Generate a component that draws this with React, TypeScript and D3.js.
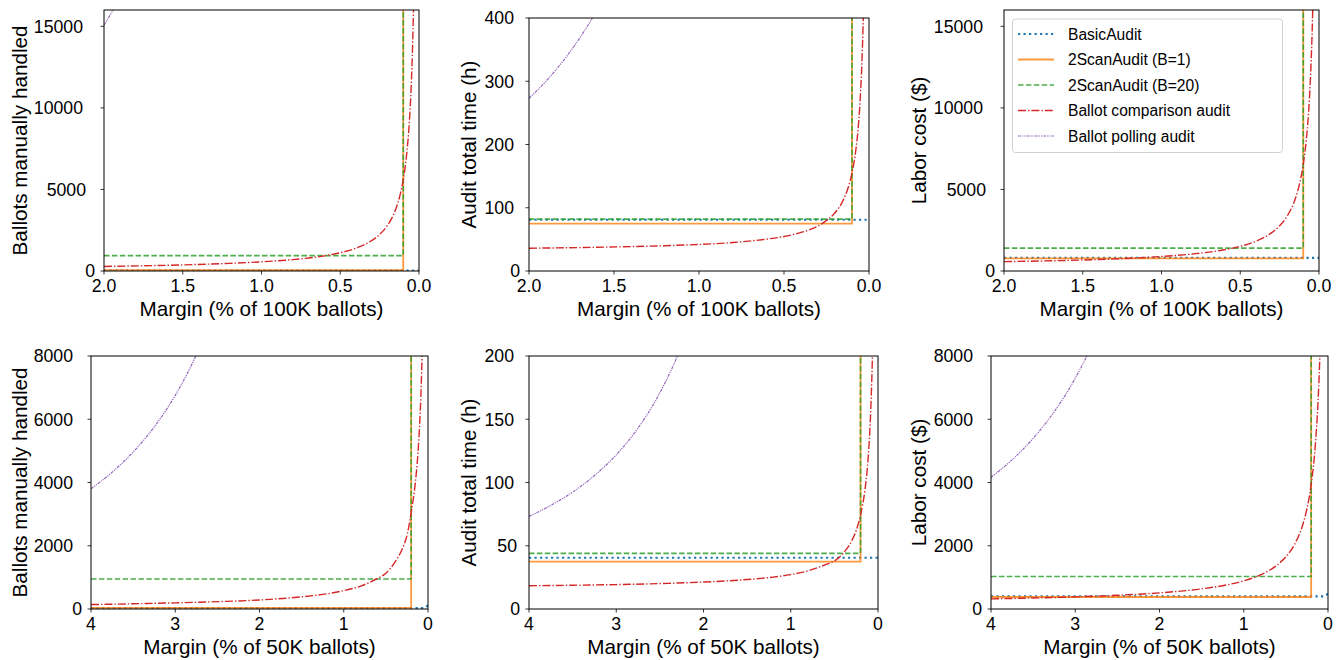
import React, { useEffect, useRef } from 'react';
import * as d3 from 'd3';

// ---- data ----
// margin samples (% of ballots) along the comparison / polling curves
const marginsTopCurve = [2.0, 1.6, 1.2, 1.0, 0.8, 0.6, 0.5, 0.4, 0.3, 0.25, 0.2, 0.15, 0.12, 0.1, 0.08, 0.06, 0.05, 0.04, 0.035, 0.03];
const comparisonBallots100k = [280, 350, 470, 560, 700, 930, 1120, 1400, 1870, 2240, 2800, 3730, 4670, 5600, 7000, 9330, 11200, 14000, 16000, 18700];
const comparisonTime100k = [36, 37.5, 40, 42, 45, 50.5, 54.5, 61, 71, 80, 92, 113, 134, 155, 186, 238, 280, 342, 387, 446];
const comparisonCost100k = [575, 650, 780, 890, 1045, 1305, 1515, 1830, 2350, 2770, 3400, 4440, 5485, 6530, 8100, 10710, 12800, 15935, 18170, 21160];

const marginsTopPolling = [2.0, 1.9, 1.8, 1.7, 1.6, 1.5];
const pollingBallots100k = [15080, 16710, 18620, 20870, 23560, 26810];
const pollingTime100k = [273, 300, 332, 369, 413, 467];
const pollingCost100k = [16600, 18400, 20500, 23000, 25900, 29500];

const marginsBottomCurve = [4, 3.5, 3, 2.5, 2, 1.5, 1.2, 1, 0.8, 0.6, 0.5, 0.4, 0.3, 0.25, 0.2, 0.15, 0.12, 0.1, 0.08, 0.06, 0.05];
const comparisonBallots50k = [140, 165, 195, 232, 285, 385, 480, 580, 725, 965, 1130, 1450, 1935, 2320, 3050, 4000, 4900, 5800, 7100, 9300, 11000];
const comparisonTime50k = [18.4, 18.8, 19.3, 20.1, 21.3, 23.3, 25.2, 27.2, 30.2, 35.1, 38, 44, 54, 62, 74.5, 94, 113, 133, 163, 212, 251];
const comparisonCost50k = [320, 347, 383, 434, 510, 637, 763, 890, 1080, 1397, 1650, 2030, 2663, 3170, 3930, 5197, 6463, 7730, 9630, 12797, 15330];

const marginsBottomPolling = [4, 3.75, 3.5, 3.25, 3, 2.75, 2.5, 2.25, 2.0];
const pollingBallots50k = [3800, 4324, 4963, 5756, 6756, 8040, 9728, 12010, 15200];
const pollingTime50k = [73.2, 81.9, 92.4, 105.5, 121.9, 143.1, 170.9, 208.5, 261.1];
const pollingCost50k = [4161, 4717, 5396, 6237, 7297, 8659, 10450, 12870, 16255];

// flat audits: [ballots, hours, dollars]
const basicAudit100k = [25, 81, 800];
const basicAudit50k = [30, 40.5, 400];
const basicAudit50kAtZero = [110, 40.5, 480];
const twoScanB1_100k = [45, 75, 780];
const twoScanB1_50k = [35, 37.5, 380];
const twoScanB20_100k = [940, 82, 1400];
const twoScanB20_50k = [950, 44, 1030];
const twoScanLimit100k = 0.1;
const twoScanLimit50k = 0.2;

const yTicksBallots100k = [0, 5000, 10000, 15000];
const yTicksTime100k = [0, 100, 200, 300, 400];
const yTicksBallots50k = [0, 2000, 4000, 6000, 8000];
const yTicksTime50k = [0, 50, 100, 150, 200];
const xTicks100k = [2.0, 1.5, 1.0, 0.5, 0.0];
const xTicks50k = [4, 3, 2, 1, 0];

const legendLabels = ['BasicAudit', '2ScanAudit (B=1)', '2ScanAudit (B=20)', 'Ballot comparison audit', 'Ballot polling audit'];

// ---- styling ----
const styles = [
  { color: '#1f77b4', width: 2.2, dash: '2.2,3.3', opacity: 1 },
  { color: '#ff7f0e', width: 1.8, dash: null, opacity: 0.8 },
  { color: '#2ca02c', width: 1.6, dash: '5.5,2.4', opacity: 0.85 },
  { color: '#d62728', width: 1.4, dash: '8,2,1.4,2', opacity: 1 },
  { color: '#9467bd', width: 1.2, dash: '3,1,1.2,1,1.2,1', opacity: 1 },
];

const FONT = '"Liberation Sans", Arial, Helvetica, sans-serif';

type Pt = [number, number];
const zip = (xs: number[], ys: number[]): Pt[] => xs.map((m, i) => [m, ys[i]]);

function buildSeries(k: number, big: boolean) {
  const xmax = big ? 2 : 4;
  const limit = big ? twoScanLimit100k : twoScanLimit50k;
  const basic = big ? basicAudit100k : basicAudit50k;
  const b1 = big ? twoScanB1_100k : twoScanB1_50k;
  const b20 = big ? twoScanB20_100k : twoScanB20_50k;
  const huge = 1e6;
  const basicPts: Pt[] = big
    ? [[xmax, basic[k]], [0, basic[k]]]
    : [[xmax, basic[k]], [0.05, basic[k]], [0, basicAudit50kAtZero[k]]];
  const comp = big
    ? [comparisonBallots100k, comparisonTime100k, comparisonCost100k][k]
    : [comparisonBallots50k, comparisonTime50k, comparisonCost50k][k];
  const poll = big
    ? [pollingBallots100k, pollingTime100k, pollingCost100k][k]
    : [pollingBallots50k, pollingTime50k, pollingCost50k][k];
  return [
    { pts: basicPts, smooth: false },
    { pts: [[xmax, b1[k]], [limit, b1[k]], [limit, huge]] as Pt[], smooth: false },
    { pts: [[xmax, b20[k]], [limit, b20[k]], [limit, huge]] as Pt[], smooth: false },
    { pts: zip(big ? marginsTopCurve : marginsBottomCurve, comp), smooth: true },
    { pts: zip(big ? marginsTopPolling : marginsBottomPolling, poll), smooth: true },
  ];
}

const panels = [
  { x0: 104, x1: 419, y0: 10, y1: 271, k: 0, big: true, ymax: 16000, yTicks: yTicksBallots100k, ylabel: 'Ballots manually handled', ylabelX: 27 },
  { x0: 529, x1: 869, y0: 18, y1: 271, k: 1, big: true, ymax: 400, yTicks: yTicksTime100k, ylabel: 'Audit total time (h)', ylabelX: 476 },
  { x0: 1004, x1: 1319, y0: 10, y1: 271, k: 2, big: true, ymax: 16000, yTicks: yTicksBallots100k, ylabel: 'Labor cost ($)', ylabelX: 926 },
  { x0: 91, x1: 428, y0: 356, y1: 609, k: 0, big: false, ymax: 8000, yTicks: yTicksBallots50k, ylabel: 'Ballots manually handled', ylabelX: 27 },
  { x0: 529, x1: 878, y0: 356, y1: 609, k: 1, big: false, ymax: 200, yTicks: yTicksTime50k, ylabel: 'Audit total time (h)', ylabelX: 476 },
  { x0: 991, x1: 1328, y0: 356, y1: 609, k: 2, big: false, ymax: 8000, yTicks: yTicksBallots50k, ylabel: 'Labor cost ($)', ylabelX: 926 },
];

function applyStyle(sel: any, s: any) {
  sel
    .attr('fill', 'none')
    .attr('stroke', s.color)
    .attr('stroke-width', s.width)
    .attr('stroke-opacity', s.opacity)
    .attr('stroke-dasharray', s.dash);
}

export default function App() {
  const ref = useRef<SVGSVGElement>(null);

  useEffect(() => {
    document.body.style.margin = '0';
    const svg = d3.select(ref.current);
    svg.selectAll('*').remove();

    panels.forEach((p, i) => {
      const xmax = p.big ? 2 : 4;
      const x = d3.scaleLinear().domain([xmax, 0]).range([p.x0, p.x1]);
      const y = d3.scaleLinear().domain([0, p.ymax]).range([p.y1, p.y0]);
      const g = svg.append('g');
      const clipId = `clip-${i}`;
      g.append('clipPath')
        .attr('id', clipId)
        .append('rect')
        .attr('x', p.x0)
        .attr('y', p.y0)
        .attr('width', p.x1 - p.x0)
        .attr('height', p.y1 - p.y0);

      const plot = g.append('g').attr('clip-path', `url(#${clipId})`);
      const straight = d3.line<Pt>().x((d) => x(d[0])).y((d) => y(Math.min(d[1], p.ymax * 3)));
      const smooth = d3
        .line<Pt>()
        .x((d) => x(d[0]))
        .y((d) => y(d[1]))
        .curve(d3.curveMonotoneX);

      buildSeries(p.k, p.big).forEach((s, j) => {
        const path = plot.append('path').attr('d', (s.smooth ? smooth : straight)(s.pts));
        applyStyle(path, styles[j]);
      });

      // frame
      g.append('rect')
        .attr('x', p.x0)
        .attr('y', p.y0)
        .attr('width', p.x1 - p.x0)
        .attr('height', p.y1 - p.y0)
        .attr('fill', 'none')
        .attr('stroke', '#000')
        .attr('stroke-width', 1);

      // y ticks
      p.yTicks.forEach((v) => {
        const yy = y(v);
        g.append('line').attr('x1', p.x0 - 3.5).attr('x2', p.x0).attr('y1', yy).attr('y2', yy).attr('stroke', '#000').attr('stroke-width', 0.8);
        const label = String(v);
        g.append('text')
          .attr('x', p.x0 - 6 - 3 * label.length)
          .attr('y', yy)
          .attr('dy', '0.36em')
          .attr('text-anchor', 'end')
          .attr('font-size', 17.7)
          .attr('font-family', FONT)
          .text(label);
      });

      // x ticks
      const xTicks = p.big ? xTicks100k : xTicks50k;
      const fmt = p.big ? d3.format('.1f') : d3.format('d');
      xTicks.forEach((v) => {
        const xx = x(v);
        g.append('line').attr('x1', xx).attr('x2', xx).attr('y1', p.y1).attr('y2', p.y1 + 3.5).attr('stroke', '#000').attr('stroke-width', 0.8);
        g.append('text')
          .attr('x', xx)
          .attr('y', p.y1 + 20.5)
          .attr('text-anchor', 'middle')
          .attr('font-size', 17.7)
          .attr('font-family', FONT)
          .text(fmt(v));
      });

      // axis labels
      g.append('text')
        .attr('x', (p.x0 + p.x1) / 2)
        .attr('y', p.y1 + 45)
        .attr('text-anchor', 'middle')
        .attr('font-size', 20.7)
        .attr('font-family', FONT)
        .text(`Margin (% of ${p.big ? '100K' : '50K'} ballots)`);
      g.append('text')
        .attr('transform', `translate(${p.ylabelX},${(p.y0 + p.y1) / 2}) rotate(-90)`)
        .attr('text-anchor', 'middle')
        .attr('font-size', 20.7)
        .attr('font-family', FONT)
        .text(p.ylabel);
    });

    // legend in the top-right panel
    const lg = svg.append('g');
    lg.append('rect')
      .attr('x', 1012.5)
      .attr('y', 19)
      .attr('width', 270)
      .attr('height', 133.5)
      .attr('rx', 3)
      .attr('fill', '#fff')
      .attr('fill-opacity', 0.8)
      .attr('stroke', '#d0d0d0')
      .attr('stroke-width', 1);
    legendLabels.forEach((name, j) => {
      const cy = 34 + j * 25.5;
      const l = lg.append('line').attr('x1', 1018).attr('x2', 1054).attr('y1', cy).attr('y2', cy);
      applyStyle(l, styles[j]);
      lg.append('text')
        .attr('x', 1068)
        .attr('y', cy)
        .attr('dy', '0.36em')
        .attr('font-size', 15.6)
        .attr('font-family', FONT)
        .text(name);
    });
  }, []);

  return <svg ref={ref} width={1337} height={660} style={{ display: 'block', background: '#fff' }} />;
}
